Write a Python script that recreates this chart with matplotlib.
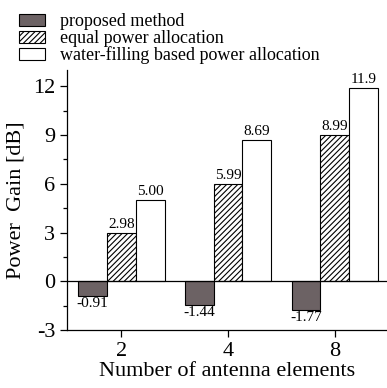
import numpy as np
import matplotlib
matplotlib.use("Agg")
import matplotlib.pyplot as plt
from matplotlib.ticker import MultipleLocator

antennas = ["2", "4", "8"]
proposed = [-0.91, -1.44, -1.77]
equal = [2.98, 5.99, 8.99]
waterfill = [5.00, 8.69, 11.9]
labels_prop = ["-0.91", "-1.44", "-1.77"]
labels_eq = ["2.98", "5.99", "8.99"]
labels_wf = ["5.00", "8.69", "11.9"]

plt.rcParams["font.family"] = ["Liberation Serif", "DejaVu Serif"]
plt.rcParams["hatch.linewidth"] = 0.8
plt.rcParams["axes.unicode_minus"] = False

fig = plt.figure(figsize=(3.87, 3.88), dpi=100)
ax = fig.add_axes([0.173, 0.149, 0.827, 0.671])

x = np.arange(len(antennas))
w = 0.27
b1 = ax.bar(x - w, proposed, w, color="#6c6264", edgecolor="black", lw=0.8,
            label="proposed method")
b2 = ax.bar(x, equal, w, color="white", edgecolor="black", lw=0.8,
            hatch="//////", label="equal power allocation")
b3 = ax.bar(x + w, waterfill, w, color="white", edgecolor="black", lw=0.8,
            label="water-filling based power allocation")

for bars, labs in ((b1, labels_prop), (b2, labels_eq), (b3, labels_wf)):
    for r, s in zip(bars, labs):
        h = r.get_height()
        cx = r.get_x() + r.get_width() / 2
        if h >= 0:
            ax.text(cx, h + 0.12, s, ha="center", va="bottom", fontsize=11)
        else:
            ax.text(cx, h - 0.08, s, ha="center", va="top", fontsize=11)

ax.axhline(0, color="black", lw=0.9)
ax.set_xlim(-0.51, 2.49)
ax.set_ylim(-3, 13)
ax.yaxis.set_major_locator(MultipleLocator(3))
ax.yaxis.set_minor_locator(MultipleLocator(1.5))
ax.set_xticks(x)
ax.set_xticklabels(antennas)
ax.tick_params(axis="both", which="major", labelsize=16, direction="out",
               length=5, width=0.9)
ax.tick_params(axis="y", which="minor", direction="out", length=3, width=0.9)
for s in ("top", "right"):
    ax.spines[s].set_visible(False)
for s in ("left", "bottom"):
    ax.spines[s].set_linewidth(0.9)

ax.set_xlabel("Number of antenna elements", fontsize=16, labelpad=1)
ax.set_ylabel("Power  Gain [dB]", fontsize=16, labelpad=5)

fig.legend(handles=[b1, b2, b3], loc="upper left", bbox_to_anchor=(0.017, 0.998),
           frameon=False, fontsize=13, handlelength=1.45, handleheight=0.65,
           labelspacing=-0.03, handletextpad=0.8, borderaxespad=0.3)

fig.savefig("out.png", dpi=100)
